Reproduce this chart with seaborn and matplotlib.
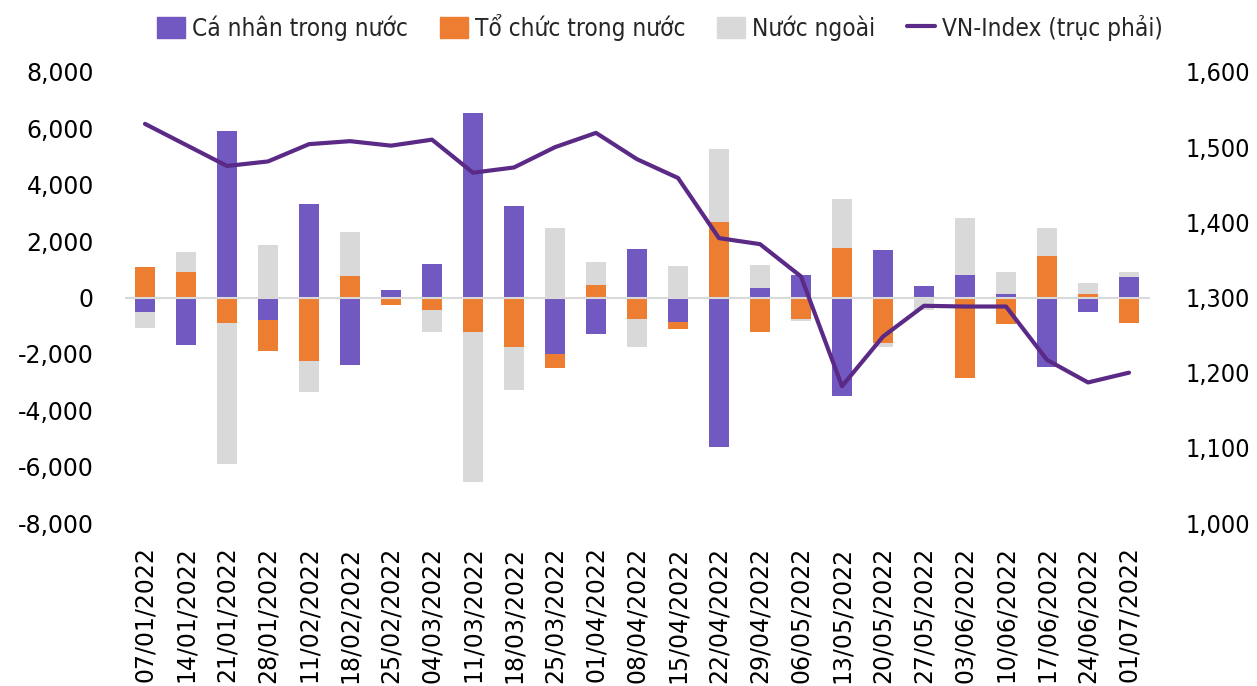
"""
Giao dịch ròng theo nhóm nhà đầu tư và VN-Index (tuần, 2022)
"""

import numpy as np
import matplotlib
matplotlib.use('Agg')
import matplotlib.pyplot as plt
import seaborn as sns
from matplotlib.patches import Patch
from matplotlib.lines import Line2D
from matplotlib.ticker import FuncFormatter

# Dữ liệu (tỷ đồng)
dates = ['07/01/2022', '14/01/2022', '21/01/2022', '28/01/2022', '11/02/2022',
         '18/02/2022', '25/02/2022', '04/03/2022', '11/03/2022', '18/03/2022',
         '25/03/2022', '01/04/2022', '08/04/2022', '15/04/2022', '22/04/2022',
         '29/04/2022', '06/05/2022', '13/05/2022', '20/05/2022', '27/05/2022',
         '03/06/2022', '10/06/2022', '17/06/2022', '24/06/2022', '01/07/2022']
ca_nhan = [-520, -1670, 5890, -790, 3320, -2390, 250, 1180, 6540, 3250,
           -2020, -1290, 1730, -860, -5320, 350, 815, -3510, 1700, 410,
           815, 140, -2480, -530, 720]
to_chuc = [1070, 910, -920, -1100, -2270, 755, -270, -430, -1210, -1740,
           -490, 430, -770, -270, 2670, -1210, -770, 1770, -1600, 0,
           -2840, -930, 1480, 140, -900]
nuoc_ngoai = [-570, 720, -5000, 1855, -1090, 1585, 0, -780, -5350, -1550,
              2480, 840, -990, 1100, 2610, 820, -80, 1720, -150, -440,
              1995, 760, 980, 360, 170]
vn_index = [1531, 1503, 1475, 1481, 1504, 1508, 1502, 1510, 1466, 1473,
            1500, 1519, 1484, 1459, 1379, 1371, 1328, 1182, 1248, 1289,
            1288, 1288, 1217, 1187, 1200]

series = [('Cá nhân trong nước', ca_nhan, '#7159C1'),
          ('Tổ chức trong nước', to_chuc, '#ED7D31'),
          ('Nước ngoài', nuoc_ngoai, '#D9D9D9')]
line_color = '#5B2A86'

sns.set_theme(style='white')
plt.rcParams['font.family'] = ['DejaVu Sans']
plt.rcParams['font.size'] = 17

fig = plt.figure(figsize=(12.57, 6.86), dpi=100)
ax = fig.add_axes([124.5 / 1257, 1 - 523 / 686, 1025 / 1257, 451 / 686])
ax2 = ax.twinx()

x = np.arange(len(dates))
pos_bottom = np.zeros(len(dates))
neg_bottom = np.zeros(len(dates))
for name, vals, color in series:
    vals = np.array(vals, dtype=float)
    pos = np.where(vals > 0, vals, 0)
    neg = np.where(vals < 0, vals, 0)
    ax.bar(x, pos, bottom=pos_bottom, width=0.5, color=color, linewidth=0)
    ax.bar(x, neg, bottom=neg_bottom, width=0.5, color=color, linewidth=0)
    pos_bottom += pos
    neg_bottom += neg

ax.axhline(0, color='#D9D9D9', linewidth=1.5, zorder=3)

sns.lineplot(x=x, y=vn_index, ax=ax2, color=line_color, linewidth=3)

ax.set_xlim(-0.5, len(dates) - 0.5)
ax.set_ylim(-8000, 8000)
ax.set_yticks(np.arange(-8000, 8001, 2000))
ax2.set_ylim(1000, 1600)
ax2.set_yticks(np.arange(1000, 1601, 100))

fmt = FuncFormatter(lambda v, p: f'{v:,.0f}')
ax.yaxis.set_major_formatter(fmt)
ax2.yaxis.set_major_formatter(fmt)

ax.set_xticks(x)
ax.set_xticklabels(dates, rotation=90)

for a in (ax, ax2):
    for s in a.spines.values():
        s.set_visible(False)
    a.grid(False)
    a.tick_params(length=0, labelsize=17, colors='black')
ax.tick_params(axis='y', pad=22)
ax.tick_params(axis='x', pad=17)
ax2.tick_params(axis='y', pad=26)
for lbl in ax2.get_yticklabels():
    lbl.set_fontstretch('condensed')
    lbl.set_fontsize(18)

handles = [Patch(color=c, label=n) for n, _, c in series]
handles.append(Line2D([0], [0], color=line_color, linewidth=3, label='VN-Index (trục phải)'))
fig.legend(handles=handles, loc='center', bbox_to_anchor=(0.525, 0.96), ncol=4,
           frameon=False, prop={'size': 17.5, 'stretch': 'condensed'},
           handlelength=1.15, handleheight=1.0, handletextpad=0.3,
           columnspacing=1.3)

fig.savefig('out.png', dpi=100)
plt.close(fig)
